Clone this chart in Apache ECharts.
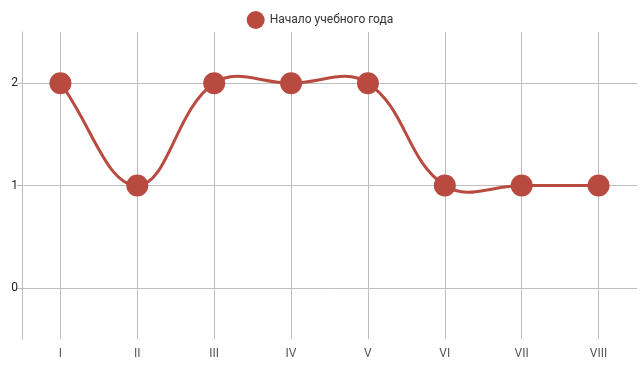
<!DOCTYPE html>
<html><head><meta charset="utf-8">
<script src="https://cdn.jsdelivr.net/npm/echarts@6/dist/echarts.min.js"></script>
<style>html,body{margin:0;padding:0;background:#fff}#c{width:640px;height:370px}</style>
</head><body><div id="c"></div>
<script>
const categories = ['I','II','III','IV','V','VI','VII','VIII'];
const seriesName = 'Начало учебного года';
const values = [2,1,2,2,2,1,1,1];
const yTicks = [0,1,2];

const chart = echarts.init(document.getElementById('c'), null, {renderer:'canvas'});
const gridColor = '#bdbdbd';
const mainColor = '#b84a3f';
const tension = 0.4;

function controlPoints(prev, cur, next){
  const d01 = Math.hypot(cur[0]-prev[0], cur[1]-prev[1]);
  const d12 = Math.hypot(next[0]-cur[0], next[1]-cur[1]);
  const s = d01 + d12;
  const fa = s ? tension*d01/s : 0;
  const fb = s ? tension*d12/s : 0;
  const vx = next[0]-prev[0], vy = next[1]-prev[1];
  return {
    before:[cur[0]-fa*vx, cur[1]-fa*vy],
    after:[cur[0]+fb*vx, cur[1]+fb*vy]
  };
}

chart.setOption({
  animation:false,
  textStyle:{fontFamily:'Roboto'},
  legend:{
    top:6, left:'center', icon:'circle', itemWidth:18, itemHeight:18, itemGap:10,
    textStyle:{fontSize:12, color:'#333', fontFamily:'Roboto'},
    data:[seriesName]
  },
  grid:{left:22, right:3, top:32, bottom:31, containLabel:false},
  xAxis:{
    type:'category', data:categories, boundaryGap:true,
    axisLine:{show:false},
    axisTick:{show:true, alignWithLabel:true, length:6, lineStyle:{color:gridColor}},
    axisLabel:{color:'#555', fontSize:12, margin:9},
    splitLine:{show:true, alignWithLabel:true, lineStyle:{color:gridColor, width:1}}
  },
  yAxis:{
    type:'value', min:-0.5, max:2.5,
    axisLine:{show:true, lineStyle:{color:gridColor}},
    axisTick:{show:true, length:5, customValues:yTicks, lineStyle:{color:gridColor}},
    axisLabel:{color:'#222', fontSize:12, margin:4, customValues:yTicks},
    splitLine:{show:true, lineStyle:{color:gridColor, width:1}}
  },
  series:[{
    name:'curve', type:'custom', coordinateSystem:'cartesian2d', z:2,
    data: values.map((v,i)=>[i,v]),
    renderItem:function(params, api){
      const i = params.dataIndex;
      const n = values.length;
      if (i >= n-1) return null;
      const P = k => api.coord([k, values[k]]);
      const p0 = P(Math.max(i-1,0)), p1 = P(i), p2 = P(i+1), p3 = P(Math.min(i+2,n-1));
      const c1 = controlPoints(p0, p1, p2);
      const c2 = controlPoints(p1, p2, p3);
      return {
        type:'bezierCurve',
        shape:{x1:p1[0], y1:p1[1], x2:p2[0], y2:p2[1],
               cpx1:c1.after[0], cpy1:c1.after[1], cpx2:c2.before[0], cpy2:c2.before[1]},
        style:{stroke:mainColor, lineWidth:3, fill:null}
      };
    }
  },{
    name:seriesName, type:'scatter', data:values, z:3,
    symbol:'circle', symbolSize:22,
    itemStyle:{color:mainColor, opacity:1}
  }]
});
</script></body></html>
